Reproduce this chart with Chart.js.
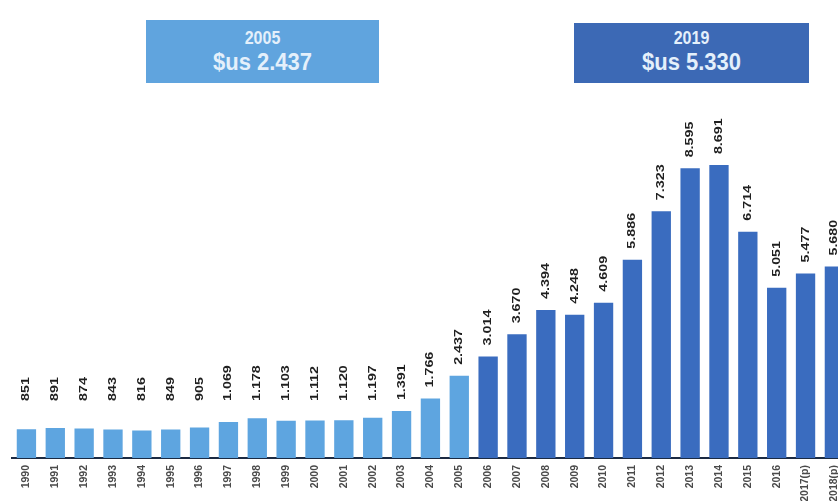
<!DOCTYPE html>
<html lang="es">
<head>
<meta charset="utf-8">
<title>Exportaciones 1990-2018</title>
<script src="https://cdn.jsdelivr.net/npm/chart.js@4.4.1/dist/chart.umd.min.js"></script>
<style>
  html, body { margin: 0; padding: 0; background: #ffffff; overflow: hidden; }
  #wrap { position: relative; width: 854px; height: 501px; }
  .box {
    position: absolute; display: flex; flex-direction: column; align-items: center;
    color: #e4f0fb; font-family: 'Liberation Sans', Arial, sans-serif; font-weight: bold;
  }
  .box .yr { font-size: 16px; margin-top: 8px; line-height: 19px; transform: scaleY(1.1); }
  .box .val { font-size: 22px; margin-top: 2px; line-height: 26px; transform: scaleY(1.1); }
  #b1 { left: 146px; top: 20px; width: 233px; height: 63px; background: #60a4de; }
  #b2 { left: 574px; top: 23px; width: 235px; height: 60px; background: #3c69b5; }
  #b2 .yr { margin-top: 5px; }
</style>
</head>
<body>
<div id="wrap">
  <canvas id="c"></canvas>
  <div class="box" id="b1"><span class="yr">2005</span><span class="val">$us 2.437</span></div>
  <div class="box" id="b2"><span class="yr">2019</span><span class="val">$us 5.330</span></div>
</div>
<script>
// Years and yearly values (millones de $us)
const years = ['1990','1991','1992','1993','1994','1995','1996','1997','1998','1999',
  '2000','2001','2002','2003','2004','2005','2006','2007','2008','2009',
  '2010','2011','2012','2013','2014','2015','2016','2017(p)','2018(p)'];
const values = [851, 891, 874, 843, 816, 849, 905, 1069, 1178, 1103,
  1112, 1120, 1197, 1391, 1766, 2437, 3014, 3670, 4394, 4248,
  4609, 5886, 7323, 8595, 8691, 6714, 5051, 5477, 5680];
// First year drawn in the darker colour
const firstDarkYear = '2006';

const lightBlue = '#5ea5e0';
const darkBlue = '#3a6cbf';
const darkIdx = years.indexOf(firstDarkYear);

function fmt(n) {
  return String(n).replace(/\B(?=(\d{3})+(?!\d))/g, '.');
}

// Rotated value labels above each bar
const valueLabels = {
  id: 'valueLabels',
  afterDatasetsDraw(chart) {
    const ctx = chart.ctx;
    const meta = chart.getDatasetMeta(0);
    ctx.save();
    ctx.fillStyle = '#1f1f1f';
    ctx.font = "bold 11px 'Liberation Sans', Arial, sans-serif";
    ctx.textAlign = 'left';
    ctx.textBaseline = 'middle';
    meta.data.forEach((bar, i) => {
      const y = Math.min(bar.y - 11, 401);
      ctx.save();
      ctx.translate(bar.x, y);
      ctx.rotate(-Math.PI / 2);
      ctx.scale(1.3, 1);
      ctx.fillText(fmt(chart.data.datasets[0].data[i]), 0, 0);
      ctx.restore();
    });
    ctx.restore();
  }
};

new Chart(document.getElementById('c'), {
  type: 'bar',
  data: {
    labels: years,
    datasets: [{
      data: values,
      backgroundColor: c => (c.dataIndex < darkIdx ? lightBlue : darkBlue),
      borderWidth: 0,
      categoryPercentage: 1,
      barPercentage: 0.67
    }]
  },
  options: {
    responsive: true,
    maintainAspectRatio: false,
    animation: false,
    layout: { padding: { left: 12, right: 0, top: 0, bottom: 0 } },
    plugins: { legend: { display: false }, tooltip: { enabled: false } },
    scales: {
      x: {
        grid: { display: false, drawTicks: false },
        border: { display: true, color: '#1b2a42', width: 2 },
        ticks: {
          minRotation: 90, maxRotation: 90, padding: 7,
          color: '#4a4a4a',
          font: { size: 10.5, weight: 'bold', family: "'Liberation Sans', Arial, sans-serif" }
        },
        afterFit: s => { s.height = 43; }
      },
      y: { display: false, min: 0, max: 13590 }
    }
  },
  plugins: [valueLabels]
});
</script>
</body>
</html>
